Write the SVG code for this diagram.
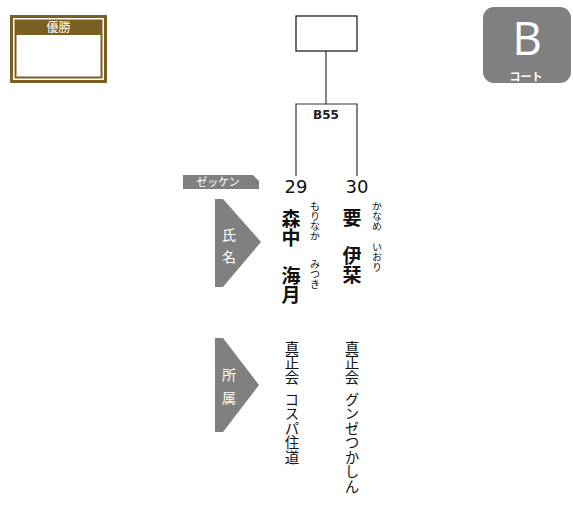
<svg xmlns="http://www.w3.org/2000/svg" width="573" height="514" viewBox="0 0 573 514">
<style>
.jp{font-family:"Noto Sans CJK JP","Noto Sans",sans-serif}
.vt{writing-mode:vertical-rl;font-family:"Noto Sans CJK JP",sans-serif;fill:#111}
.lbl{fill:#808080}
.ln{stroke:#333;stroke-width:1.2;fill:none}
</style>
<rect width="573" height="514" fill="#ffffff"/>
<g id="winner">
<rect x="11.5" y="16.5" width="94" height="65" fill="none" stroke="#7b5f22" stroke-width="3"/>
<rect x="15.5" y="20.5" width="86" height="57" fill="#ffffff" stroke="#7b5f22" stroke-width="2"/>
<rect x="15" y="20" width="87" height="15" fill="#7b5f22"/>
<text x="58.5" y="32" text-anchor="middle" font-size="12" fill="#ffffff" class="jp">優勝</text>
</g>
<g id="court">
<rect x="483" y="7" width="88" height="76" rx="11" fill="#808080"/>
<text x="527" y="55" text-anchor="middle" font-size="46" fill="#ffffff" font-family="Open Sans, sans-serif">B</text>
<text x="526" y="80.5" text-anchor="middle" font-size="11" font-weight="bold" fill="#ffffff" class="jp">コート</text>
</g>
<g id="connectors">
<line class="ln" x1="326" y1="51" x2="326" y2="104"/>
<polyline class="ln" points="296,176 296,104 357,104 357,176"/>
</g>
<g id="final">
<rect x="296" y="16" width="61" height="35" fill="#ffffff" stroke="#111" stroke-width="1.2"/>
</g>
<g id="match-B55">
<text x="326" y="119" text-anchor="middle" font-size="12" font-weight="bold" fill="#222" font-family="DejaVu Sans, sans-serif">B55</text>
</g>
<g id="label-zekken">
<polygon class="lbl" points="183,175 253,175 259,181 259,189 183,189"/>
<text x="218" y="186" text-anchor="middle" font-size="11" fill="#ffffff" class="jp">ゼッケン</text>
</g>
<g id="label-name">
<polygon class="lbl" points="215,199 223,199 261,242 223,287 215,287"/>
<text x="229" y="240" text-anchor="middle" font-size="14" fill="#ffffff" class="jp">氏</text>
<text x="229" y="262" text-anchor="middle" font-size="14" fill="#ffffff" class="jp">名</text>
</g>
<g id="label-team">
<polygon class="lbl" points="215,338 223,338 259,385 223,432 215,432"/>
<text x="229" y="380" text-anchor="middle" font-size="14" fill="#ffffff" class="jp">所</text>
<text x="229" y="403" text-anchor="middle" font-size="14" fill="#ffffff" class="jp">属</text>
</g>
<g id="player-29">
<text x="296" y="193" text-anchor="middle" font-size="18" fill="#111" font-family="DejaVu Sans, sans-serif">29</text>
<text class="vt" x="291" y="209" font-size="19" font-weight="bold">森中　海月</text>
<text class="vt" x="315" y="201" font-size="10">もりなか</text>
<text class="vt" x="315" y="259" font-size="10">みつき</text>
<text class="vt" x="292" y="341" font-size="14.5" fill="#222">真正会&#x2002;コスパ住道</text>
</g>
<g id="player-30">
<text x="357" y="193" text-anchor="middle" font-size="18" fill="#111" font-family="DejaVu Sans, sans-serif">30</text>
<text class="vt" x="352" y="208" font-size="19" font-weight="bold">要　伊栞</text>
<text class="vt" x="377" y="201" font-size="10">かなめ</text>
<text class="vt" x="377" y="242" font-size="10">いおり</text>
<text class="vt" x="352" y="341" font-size="14.5" fill="#222">真正会&#x2002;グンゼつかしん</text>
</g>
</svg>
